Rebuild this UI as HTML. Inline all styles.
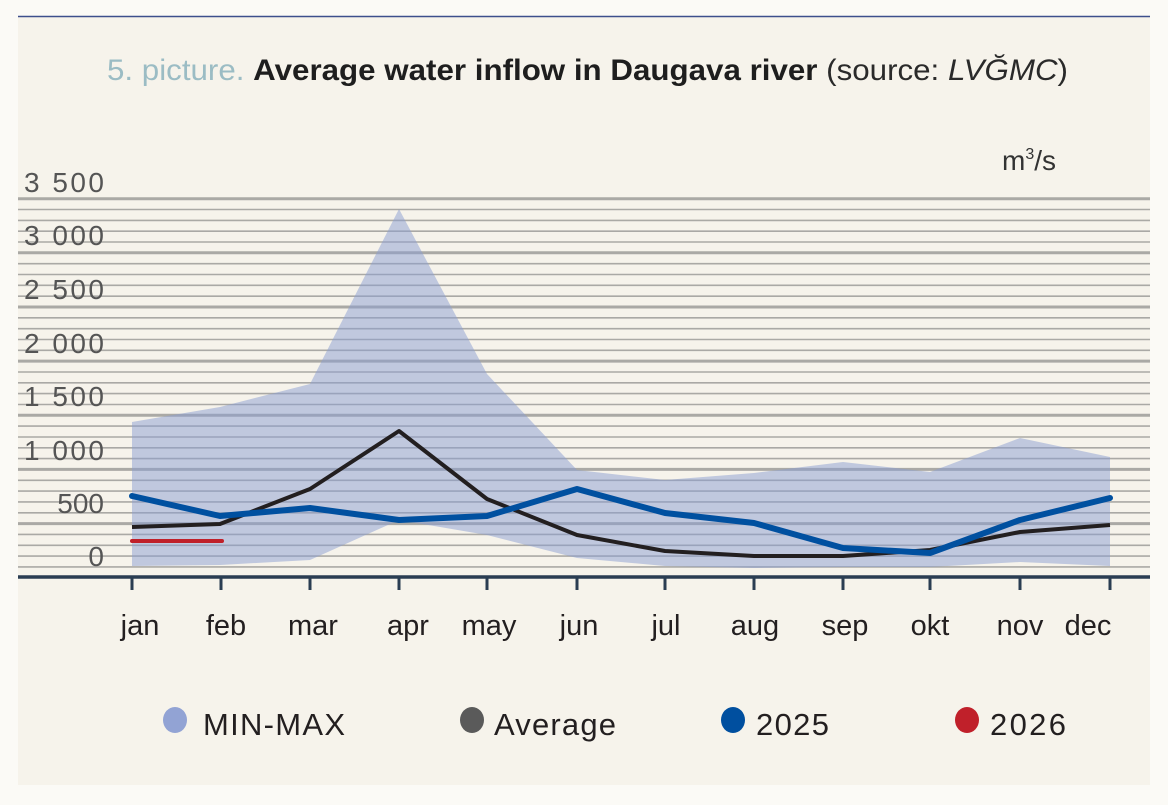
<!DOCTYPE html>
<html><head><meta charset="utf-8"><style>
html,body{margin:0;padding:0;background:#fbfaf6;}
svg{display:block;}
text{font-family:"Liberation Sans Narrow","Liberation Sans",sans-serif;}
</style></head><body>
<svg id="s" width="1168" height="805" viewBox="0 0 1168 805" xmlns="http://www.w3.org/2000/svg">
<rect x="0" y="0" width="1168" height="805" fill="#fbfaf6"/>
<rect x="18" y="16" width="1132" height="769" fill="#f6f3eb"/>
<line x1="18" y1="16.5" x2="1150" y2="16.5" stroke="#3d4f8c" stroke-width="1.5"/>
<text x="107" y="80" font-size="30" textLength="961" lengthAdjust="spacingAndGlyphs"><tspan fill="#9bbcc4">5. picture. </tspan><tspan fill="#1e1e1e" font-weight="bold">Average water inflow in Daugava river</tspan><tspan fill="#2a2a2a"> (source: </tspan><tspan fill="#2a2a2a" font-style="italic">LVĞMC</tspan><tspan fill="#2a2a2a">)</tspan></text>
<text x="1056" y="170" text-anchor="end" font-size="28" fill="#333">m<tspan font-size="16" dy="-11">3</tspan><tspan dy="11">/s</tspan></text>
<g id="grid"></g>
<g font-size="28" fill="#555" text-anchor="end">
<text x="104" y="192" textLength="80">3 500</text>
<text x="104" y="245" textLength="80">3 000</text>
<text x="104" y="299" textLength="80">2 500</text>
<text x="104" y="353" textLength="80">2 000</text>
<text x="104" y="406" textLength="80">1 500</text>
<text x="104" y="460" textLength="80">1 000</text>
<text x="104" y="513">500</text>
<text x="104" y="566">0</text>
</g>
<polygon fill="#8a9dd2" fill-opacity="0.5" points="132,422 220,407 310,384 399,209 487,374 577,470 665,480 754,473 843,462 930,472 1020,438 1110,457 1110,566 1020,562 930,567 843,567 754,568 665,566 577,558 487,535 399,520 310,560 220,565 132,566"/>
<polyline fill="none" stroke="#231f20" stroke-width="4" stroke-linejoin="round" points="132,527 220,524 310,489 399,431 487,499 577,535 665,551 754,556 843,556 930,550 1020,532 1110,525"/>
<polyline fill="none" stroke="#0050a0" stroke-width="6" stroke-linejoin="round" stroke-linecap="round" points="132,496 220,516 310,508 399,520 487,516 577,489 665,513 754,523 843,548 930,553 1020,520 1110,498"/>
<line x1="132" y1="541" x2="222" y2="541" stroke="#c0202a" stroke-width="4" stroke-linecap="round"/>
<line x1="18" y1="577" x2="1150" y2="577" stroke="#2a3d52" stroke-width="3.5"/>
<g stroke="#2a3d52" stroke-width="3">
<line x1="132" y1="577" x2="132" y2="590"/><line x1="221" y1="577" x2="221" y2="590"/><line x1="310" y1="577" x2="310" y2="590"/><line x1="399" y1="577" x2="399" y2="590"/><line x1="487" y1="577" x2="487" y2="590"/><line x1="577" y1="577" x2="577" y2="590"/><line x1="665" y1="577" x2="665" y2="590"/><line x1="754" y1="577" x2="754" y2="590"/><line x1="843" y1="577" x2="843" y2="590"/><line x1="930" y1="577" x2="930" y2="590"/><line x1="1020" y1="577" x2="1020" y2="590"/><line x1="1110" y1="577" x2="1110" y2="590"/>
</g>
<g font-size="29" fill="#231f20" text-anchor="middle">
<text x="140" y="635">jan</text><text x="226" y="635">feb</text><text x="313" y="635">mar</text><text x="408" y="635">apr</text><text x="489" y="635">may</text><text x="579" y="635">jun</text><text x="666" y="635">jul</text><text x="755" y="635">aug</text><text x="845" y="635">sep</text><text x="930" y="635">okt</text><text x="1020" y="635">nov</text><text x="1088" y="635">dec</text>
</g>
<g font-size="31" fill="#231f20">
<ellipse cx="175" cy="720" rx="12" ry="13" fill="#92a3d4"/><text x="203" y="735" textLength="142">MIN-MAX</text>
<ellipse cx="472" cy="720" rx="12" ry="13" fill="#5a5a5a"/><text x="494" y="735" textLength="122">Average</text>
<ellipse cx="733" cy="720" rx="12" ry="13" fill="#004f9f"/><text x="756" y="735" textLength="73">2025</text>
<ellipse cx="967" cy="720" rx="12" ry="13" fill="#c0202a"/><text x="990" y="735" textLength="76">2026</text>
</g>
</svg>
<script>
var g=document.getElementById('grid'),h='';
for(var k=0;k<=34;k++){var y=(198.7+k*10.83).toFixed(1);var t=(k%5==0);
h+='<line x1="18" x2="1150" y1="'+y+'" y2="'+y+'" stroke="#aaa9a5" stroke-width="'+(t?3:1.6)+'"/>';}
g.innerHTML=h;
</script>
</body></html>
